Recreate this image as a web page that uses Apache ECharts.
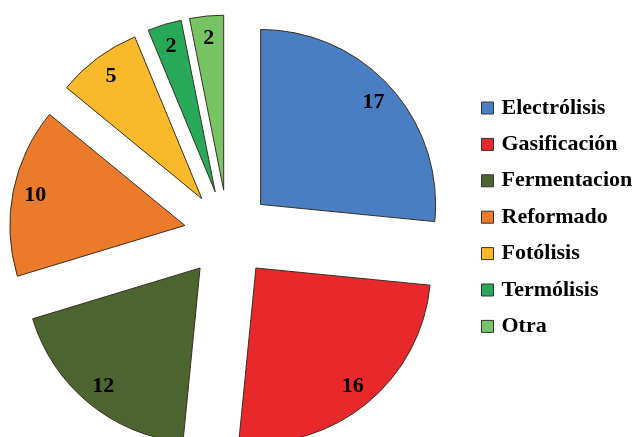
<!DOCTYPE html>
<html>
<head>
<meta charset="utf-8">
<script src="https://cdn.jsdelivr.net/npm/echarts@6/dist/echarts.min.js"></script>
<style>
html,body{margin:0;padding:0;background:#fff;}
#chart{width:633px;height:437px;}
</style>
</head>
<body>
<div id="chart"></div>
<script>
const categories = ['Electrólisis', 'Gasificación', 'Fermentacion', 'Reformado', 'Fotólisis', 'Termólisis', 'Otra'];
const values = [17, 16, 12, 10, 5, 2, 2];
const palette = ['#4a7ec3', '#e8282b', '#4b6430', '#ec7a2b', '#f8ba2b', '#28a95a', '#77c464'];

const CENTER = [228, 234];
const R = 175;
const OFFSET = 44;
const serifFont = '"Liberation Serif", "Times New Roman", serif';

const mainData = categories.map((name, i) => ({
  name: name,
  value: values[i],
  selected: true,
  itemStyle: { color: palette[i] }
}));
const labelData = categories.map((name, i) => ({
  name: name,
  value: values[i],
  selected: true
}));

const chart = echarts.init(document.getElementById('chart'), null, { renderer: 'canvas' });
chart.setOption({
  animation: false,
  backgroundColor: '#ffffff',
  legend: {
    orient: 'vertical',
    left: 476,
    top: 92,
    icon: 'rect',
    itemWidth: 12,
    itemHeight: 12,
    itemGap: 14.4,
    data: categories,
    itemStyle: { borderColor: '#333', borderWidth: 1 },
    textStyle: {
      fontFamily: serifFont,
      fontWeight: 'bold',
      fontSize: 22,
      lineHeight: 22,
      color: '#000',
      padding: [0, 0, 0, 3]
    }
  },
  series: [
    {
      type: 'pie',
      center: CENTER,
      radius: [0, R],
      startAngle: 90,
      clockwise: true,
      selectedMode: 'multiple',
      selectedOffset: OFFSET,
      avoidLabelOverlap: false,
      label: { show: false },
      labelLine: { show: false },
      itemStyle: { borderColor: '#3a2f22', borderWidth: 1 },
      emphasis: { scale: false },
      select: { itemStyle: { borderColor: '#3a2f22', borderWidth: 1 } },
      data: mainData
    },
    {
      type: 'pie',
      center: CENTER,
      radius: [124, R],
      startAngle: 90,
      clockwise: true,
      selectedMode: 'multiple',
      selectedOffset: OFFSET,
      silent: true,
      avoidLabelOverlap: false,
      itemStyle: { color: 'rgba(0,0,0,0)', borderWidth: 0 },
      select: { itemStyle: { color: 'rgba(0,0,0,0)', borderWidth: 0 } },
      emphasis: { scale: false },
      labelLine: { show: false },
      label: {
        show: true,
        position: 'inside',
        formatter: '{c}',
        fontFamily: serifFont,
        fontWeight: 'bold',
        fontSize: 22,
        color: '#000'
      },
      data: labelData
    }
  ]
});
</script>
</body>
</html>
